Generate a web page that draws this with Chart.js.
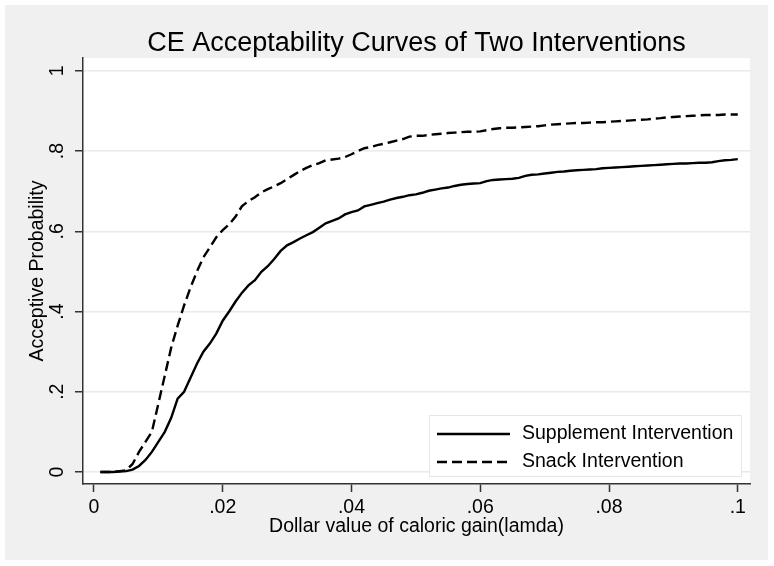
<!DOCTYPE html>
<html>
<head>
<meta charset="utf-8">
<script src="https://cdn.jsdelivr.net/npm/chart.js@4.4.0/dist/chart.umd.min.js"></script>
<style>
  body { margin: 0; background: #fff; }
  #wrap { width: 774px; height: 566px; }
</style>
</head>
<body>
<div id="wrap"><canvas id="myChart"></canvas></div>
<script>
// lambda values (dollar value of caloric gain)
const lambdas = [
  0.001, 0.002, 0.003, 0.004, 0.005, 0.006, 0.007, 0.008, 0.009, 0.010,
  0.011, 0.012, 0.013, 0.014, 0.015, 0.016, 0.017, 0.018, 0.019, 0.020,
  0.021, 0.022, 0.023, 0.024, 0.025, 0.026, 0.027, 0.028, 0.029, 0.030,
  0.031, 0.032, 0.033, 0.034, 0.035, 0.036, 0.037, 0.038, 0.039, 0.040,
  0.041, 0.042, 0.043, 0.044, 0.045, 0.046, 0.047, 0.048, 0.049, 0.050,
  0.051, 0.052, 0.053, 0.054, 0.055, 0.056, 0.057, 0.058, 0.059, 0.060,
  0.061, 0.062, 0.063, 0.064, 0.065, 0.066, 0.067, 0.068, 0.069, 0.070,
  0.071, 0.072, 0.073, 0.074, 0.075, 0.076, 0.077, 0.078, 0.079, 0.080,
  0.081, 0.082, 0.083, 0.084, 0.085, 0.086, 0.087, 0.088, 0.089, 0.090,
  0.091, 0.092, 0.093, 0.094, 0.095, 0.096, 0.097, 0.098, 0.099, 0.100
];

const supplement = [
  0, 0, 0, 0.001, 0.002, 0.006, 0.015, 0.030, 0.050, 0.075,
  0.100, 0.135, 0.183, 0.200, 0.235, 0.270, 0.300, 0.320, 0.345, 0.377,
  0.400, 0.425, 0.447, 0.465, 0.478, 0.499, 0.513, 0.531, 0.551, 0.565,
  0.573, 0.582, 0.590, 0.598, 0.609, 0.620, 0.626, 0.632, 0.642, 0.648,
  0.652, 0.662, 0.666, 0.670, 0.674, 0.679, 0.683, 0.686, 0.690, 0.692,
  0.696, 0.701, 0.704, 0.707, 0.709, 0.713, 0.716, 0.718, 0.719, 0.720,
  0.725, 0.728, 0.729, 0.730, 0.731, 0.733, 0.738, 0.741, 0.742, 0.744,
  0.746, 0.748, 0.749, 0.751, 0.752, 0.753, 0.754, 0.755, 0.757, 0.758,
  0.759, 0.760, 0.761, 0.762, 0.763, 0.764, 0.765, 0.766, 0.767, 0.768,
  0.769, 0.769, 0.770, 0.771, 0.771, 0.772, 0.775, 0.777, 0.778, 0.780
];

const snack = [
  0, 0, 0, 0.002, 0.004, 0.020, 0.050, 0.075, 0.100, 0.170,
  0.240, 0.310, 0.365, 0.415, 0.460, 0.500, 0.535, 0.560, 0.585, 0.603,
  0.617, 0.637, 0.663, 0.675, 0.685, 0.697, 0.705, 0.712, 0.720, 0.730,
  0.740, 0.750, 0.758, 0.765, 0.770, 0.777, 0.779, 0.781, 0.785, 0.792,
  0.800, 0.807, 0.810, 0.815, 0.818, 0.822, 0.826, 0.830, 0.836, 0.838,
  0.838, 0.840, 0.842, 0.843, 0.845, 0.846, 0.847, 0.848, 0.848, 0.849,
  0.852, 0.855, 0.857, 0.858, 0.858, 0.859, 0.860, 0.861, 0.862, 0.864,
  0.866, 0.867, 0.868, 0.869, 0.870, 0.870, 0.871, 0.872, 0.872, 0.873,
  0.874, 0.875, 0.876, 0.877, 0.878, 0.879, 0.881, 0.882, 0.884, 0.885,
  0.886, 0.887, 0.888, 0.889, 0.890, 0.890, 0.890, 0.891, 0.891, 0.891
];

const xTicks = [0, 0.02, 0.04, 0.06, 0.08, 0.1];
const xTickLabels = ['0', '.02', '.04', '.06', '.08', '.1'];
const yTicks = [0, 0.2, 0.4, 0.6, 0.8, 1];
const yTickLabels = ['0', '.2', '.4', '.6', '.8', '1'];

const chartTitle = 'CE Acceptability Curves of Two Interventions';

const FONT = "'Liberation Sans', Arial, sans-serif";

function pts(ys) {
  return lambdas.map(function(x, i) { return {x: x, y: ys[i]}; });
}

// grey outer region, white plot region
const bgPlugin = {
  id: 'bg',
  beforeDraw: function(chart) {
    const ctx = chart.ctx;
    const a = chart.chartArea;
    ctx.save();
    ctx.fillStyle = '#fff';
    ctx.fillRect(0, 0, chart.width, chart.height);
    ctx.fillStyle = '#f0f0f0';
    ctx.fillRect(5, 5, chart.width - 11, chart.height - 11);
    ctx.fillStyle = '#fff';
    ctx.fillRect(a.left, a.top, a.right - a.left, a.bottom - a.top);
    ctx.restore();
  },
  afterDraw: function(chart) {
    // title centred over the plot region
    const ctx = chart.ctx;
    const a = chart.chartArea;
    ctx.save();
    ctx.font = '27px ' + FONT;
    ctx.fillStyle = '#000';
    ctx.textAlign = 'center';
    ctx.textBaseline = 'middle';
    ctx.fillText(chartTitle, (a.left + a.right) / 2, 44);
    ctx.restore();
  }
};

// stata-like legend box inside the plot, lower right
const legendPlugin = {
  id: 'boxLegend',
  afterDraw: function(chart) {
    const ctx = chart.ctx;
    const a = chart.chartArea;
    const w = 313, h = 62;
    const x0 = a.right - 8 - w, y0 = a.bottom - 7 - h;
    ctx.save();
    ctx.fillStyle = '#fff';
    ctx.fillRect(x0, y0, w, h);
    ctx.strokeStyle = '#e6e6e6';
    ctx.lineWidth = 1;
    ctx.strokeRect(x0 + 0.5, y0 + 0.5, w - 1, h - 1);
    ctx.font = '19.5px ' + FONT;
    ctx.textBaseline = 'middle';
    ctx.fillStyle = '#000';
    chart.data.datasets.forEach(function(ds, i) {
      const yy = y0 + 19 + i * 28;
      ctx.beginPath();
      ctx.setLineDash(ds.borderDash || []);
      ctx.lineWidth = ds.borderWidth;
      ctx.strokeStyle = ds.borderColor;
      ctx.moveTo(x0 + 8, yy);
      ctx.lineTo(x0 + 81, yy);
      ctx.stroke();
      ctx.setLineDash([]);
      ctx.fillText(ds.label, x0 + 93, yy);
    });
    ctx.restore();
  }
};

const config = {
  type: 'line',
  data: {
    datasets: [{
      label: 'Supplement Intervention',
      data: pts(supplement),
      borderColor: '#000',
      borderWidth: 2.4,
      pointRadius: 0,
      tension: 0,
      fill: false
    }, {
      label: 'Snack Intervention',
      data: pts(snack),
      borderColor: '#000',
      borderWidth: 2.4,
      borderDash: [10, 5],
      pointRadius: 0,
      tension: 0,
      fill: false
    }]
  },
  options: {
    responsive: true,
    maintainAspectRatio: false,
    animation: false,
    layout: { padding: { left: 5, right: 24, top: 58, bottom: 0 } },
    plugins: {
      legend: { display: false },
      tooltip: { enabled: false },
      title: { display: false }
    },
    scales: {
      x: {
        type: 'linear',
        min: -0.0017,
        max: 0.1019,
        afterBuildTicks: function(scale) {
          scale.ticks = xTicks.map(function(v) { return {value: v}; });
        },
        afterFit: function(scale) { scale.height = 82; },
        ticks: {
          color: '#000',
          font: { family: FONT, size: 19.5 },
          padding: 4,
          maxRotation: 0,
          autoSkip: false,
          callback: function(v) { return xTickLabels[xTicks.indexOf(v)]; }
        },
        grid: {
          drawOnChartArea: false,
          drawTicks: true,
          tickLength: 8,
          tickColor: '#333',
          tickWidth: 1.5
        },
        border: { color: '#333', width: 1.5 },
        title: {
          display: true,
          text: 'Dollar value of caloric gain(lamda)',
          color: '#000',
          font: { family: FONT, size: 19.5 },
          padding: { top: 0, bottom: 28 }
        }
      },
      y: {
        min: -0.03,
        max: 1.032,
        afterBuildTicks: function(scale) {
          scale.ticks = yTicks.map(function(v) { return {value: v}; });
        },
        afterFit: function(scale) { scale.width = 78; },
        ticks: {
          color: '#000',
          font: { family: FONT, size: 19.5 },
          padding: 9,
          minRotation: 90,
          maxRotation: 90,
          crossAlign: 'center',
          autoSkip: false,
          callback: function(v) { return yTickLabels[yTicks.indexOf(v)]; }
        },
        grid: {
          color: '#eaeaea',
          lineWidth: 1.5,
          drawTicks: true,
          tickLength: 8,
          tickColor: '#333',
          tickWidth: 1.5
        },
        border: { color: '#333', width: 1.5 },
        title: {
          display: true,
          text: 'Acceptive Probability',
          color: '#000',
          font: { family: FONT, size: 19.5 },
          padding: { top: 21, bottom: 0 }
        }
      }
    }
  },
  plugins: [bgPlugin, legendPlugin]
};

var myChart = new Chart(document.getElementById('myChart'), config);
</script>
</body>
</html>
